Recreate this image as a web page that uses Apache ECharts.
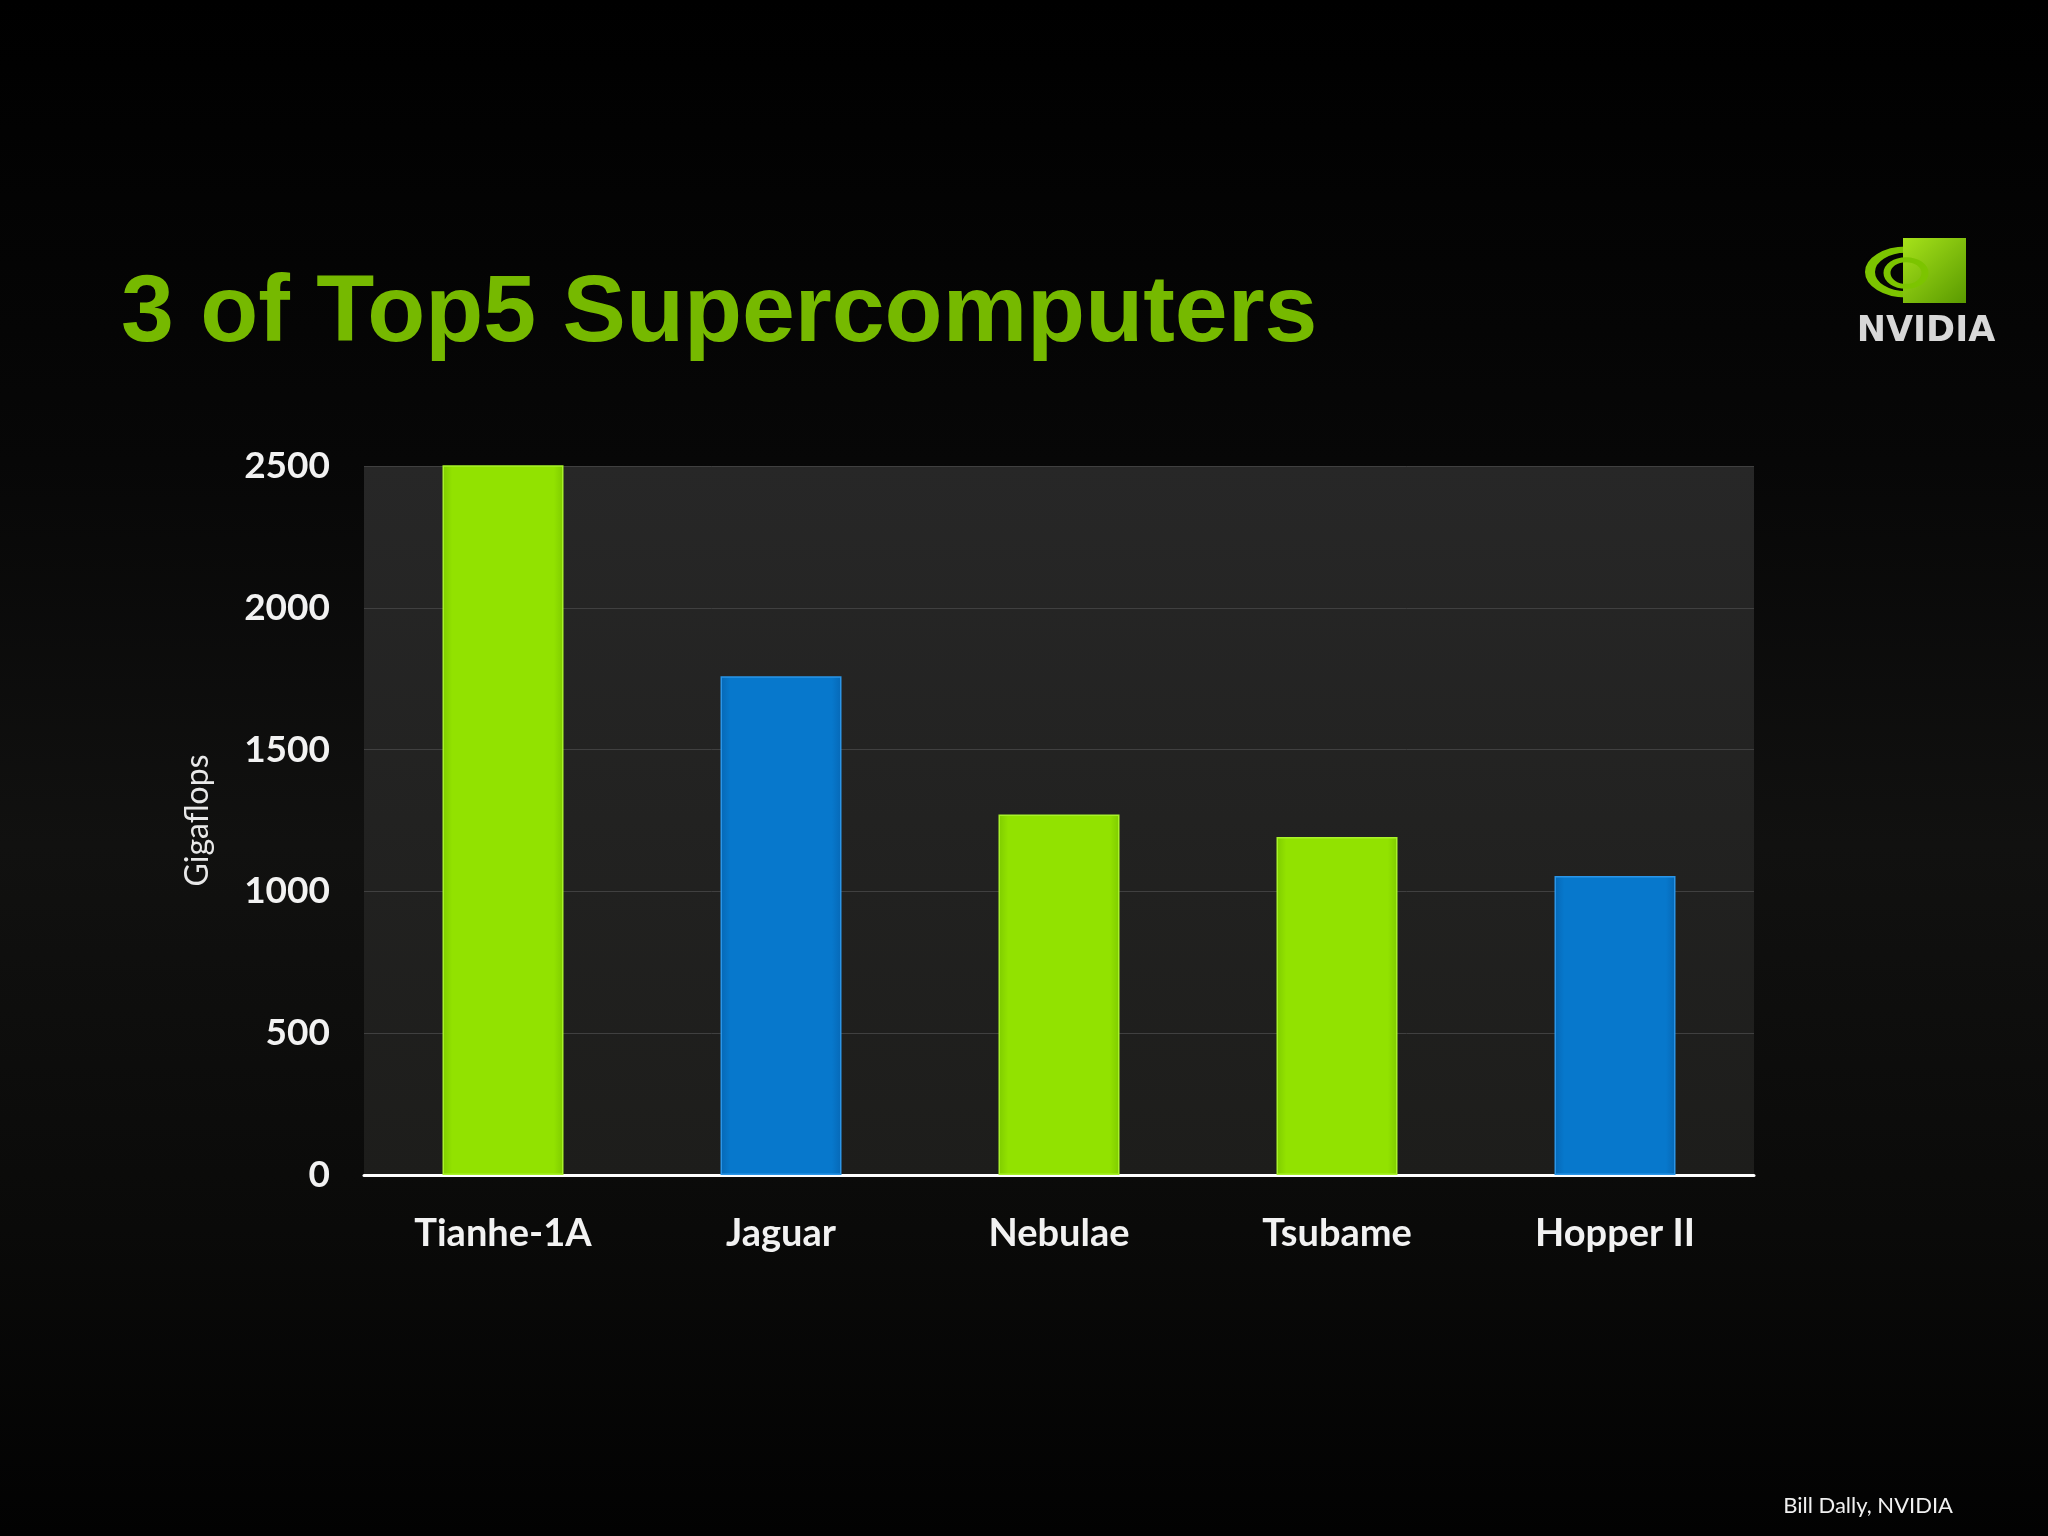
<!DOCTYPE html>
<html>
<head>
<meta charset="utf-8">
<script src="https://cdn.jsdelivr.net/npm/echarts@6/dist/echarts.min.js"></script>
<style>
  html, body { margin: 0; padding: 0; background: #000; }
  #chart { width: 2048px; height: 1536px; }
</style>
</head>
<body>
<div id="chart"></div>
<script>
// ---- data ----
const categories = ['Tianhe-1A', 'Jaguar', 'Nebulae', 'Tsubame', 'Hopper II'];
const gigaflops = [2566, 1759, 1271, 1192, 1054];
const isGreen = [true, false, true, true, false];
const yMin = 0, yMax = 2500, yStep = 500;
const titleText = '3 of Top5 Supercomputers';
const yAxisName = 'Gigaflops';
const footerText = 'Bill Dally, NVIDIA';

const G = echarts.graphic;
function barStyle(green) {
  const c = green ? ['#7fcc00', '#92e200', '#92e200', '#7fcc00'] : ['#0668b6', '#0778cc', '#0778cc', '#0668b6'];
  return {
    color: new G.LinearGradient(0, 0, 1, 0, [
      { offset: 0, color: c[0] }, { offset: 0.08, color: c[1] },
      { offset: 0.92, color: c[2] }, { offset: 1, color: c[3] }
    ]),
    borderColor: green ? '#a8f22a' : '#2a95e8',
    borderWidth: 1.5
  };
}

const chart = echarts.init(document.getElementById('chart'), null, { renderer: 'canvas' });
chart.setOption({
  backgroundColor: new G.LinearGradient(0, 0, 0, 1, [
    { offset: 0, color: '#000000' },
    { offset: 0.3, color: '#070707' },
    { offset: 0.55, color: '#111110' },
    { offset: 0.8, color: '#0a0a09' },
    { offset: 1, color: '#020202' }
  ]),
  animation: false,
  title: {
    text: titleText,
    left: 116, top: 262,
    textStyle: { color: '#76b900', fontFamily: 'Liberation Sans', fontWeight: 'bold', fontSize: 95 }
  },
  grid: {
    left: 364, right: 294, top: 466, bottom: 361,
    show: true, borderWidth: 0,
    backgroundColor: new G.LinearGradient(0, 0, 0, 1, [
      { offset: 0, color: '#272727' }, { offset: 1, color: '#1d1d1b' }
    ])
  },
  xAxis: {
    type: 'category',
    data: categories,
    axisLine: { show: true, lineStyle: { color: '#ffffff', width: 3 } },
    axisTick: { show: false },
    axisLabel: { color: '#f2f2f2', fontFamily: 'Lato', fontWeight: 'bold', fontSize: 38, margin: 40 }
  },
  yAxis: {
    type: 'value',
    min: yMin, max: yMax, interval: yStep,
    name: yAxisName,
    nameLocation: 'middle',
    nameGap: 150,
    nameRotate: 90,
    nameTextStyle: { color: '#e8e8e8', fontFamily: 'Lato', fontSize: 32 },
    axisLine: { show: false },
    axisTick: { show: false },
    axisLabel: { color: '#f2f2f2', fontFamily: 'Lato', fontWeight: 'bold', fontSize: 37, margin: 34,
      formatter: v => String(v) },
    splitLine: { show: true, lineStyle: { color: '#404040', width: 1 } }
  },
  series: [{
    type: 'bar',
    clip: true,
    barWidth: 121,
    data: gigaflops.map((v, i) => ({ value: v, itemStyle: barStyle(isGreen[i]) }))
  }],
  graphic: [
    // NVIDIA logo
    { type: 'circle', shape: { cx: 0, cy: 0, r: 36 }, x: 1906, y: 272, scaleY: 0.62,
      style: { fill: 'none', stroke: '#7cc400', lineWidth: 10 } },
    { type: 'rect', shape: { x: 1903, y: 238, width: 63, height: 65 },
      style: { fill: new G.LinearGradient(0, 0, 1, 1, [
        { offset: 0, color: '#a6e21a' }, { offset: 1, color: '#5a9a00' }
      ]) } },
    { type: 'circle', shape: { cx: 0, cy: 0, r: 36 }, x: 1906, y: 272, scaleY: 0.62,
      style: { fill: 'none', stroke: '#1f3300', lineWidth: 8 }, z: 10,
      clipPath: { type: 'rect', shape: { x: 1903, y: 230, width: 70, height: 80 } } },
    { type: 'circle', shape: { cx: 0, cy: 0, r: 19 }, x: 1906, y: 273, scaleY: 0.7,
      style: { fill: 'none', stroke: '#7cc400', lineWidth: 7 } },
    { type: 'text', x: 1926, y: 332,
      style: { text: 'NVIDIA', fill: '#d8d8d8', font: 'bold 35px "DejaVu Sans"',
        textAlign: 'center', textVerticalAlign: 'middle' } },
    // footer
    { type: 'text', x: 1953, y: 1506,
      style: { text: footerText, fill: '#f0f0f0', font: '22px Lato',
        textAlign: 'right', textVerticalAlign: 'middle' } }
  ]
});
</script>
</body>
</html>
